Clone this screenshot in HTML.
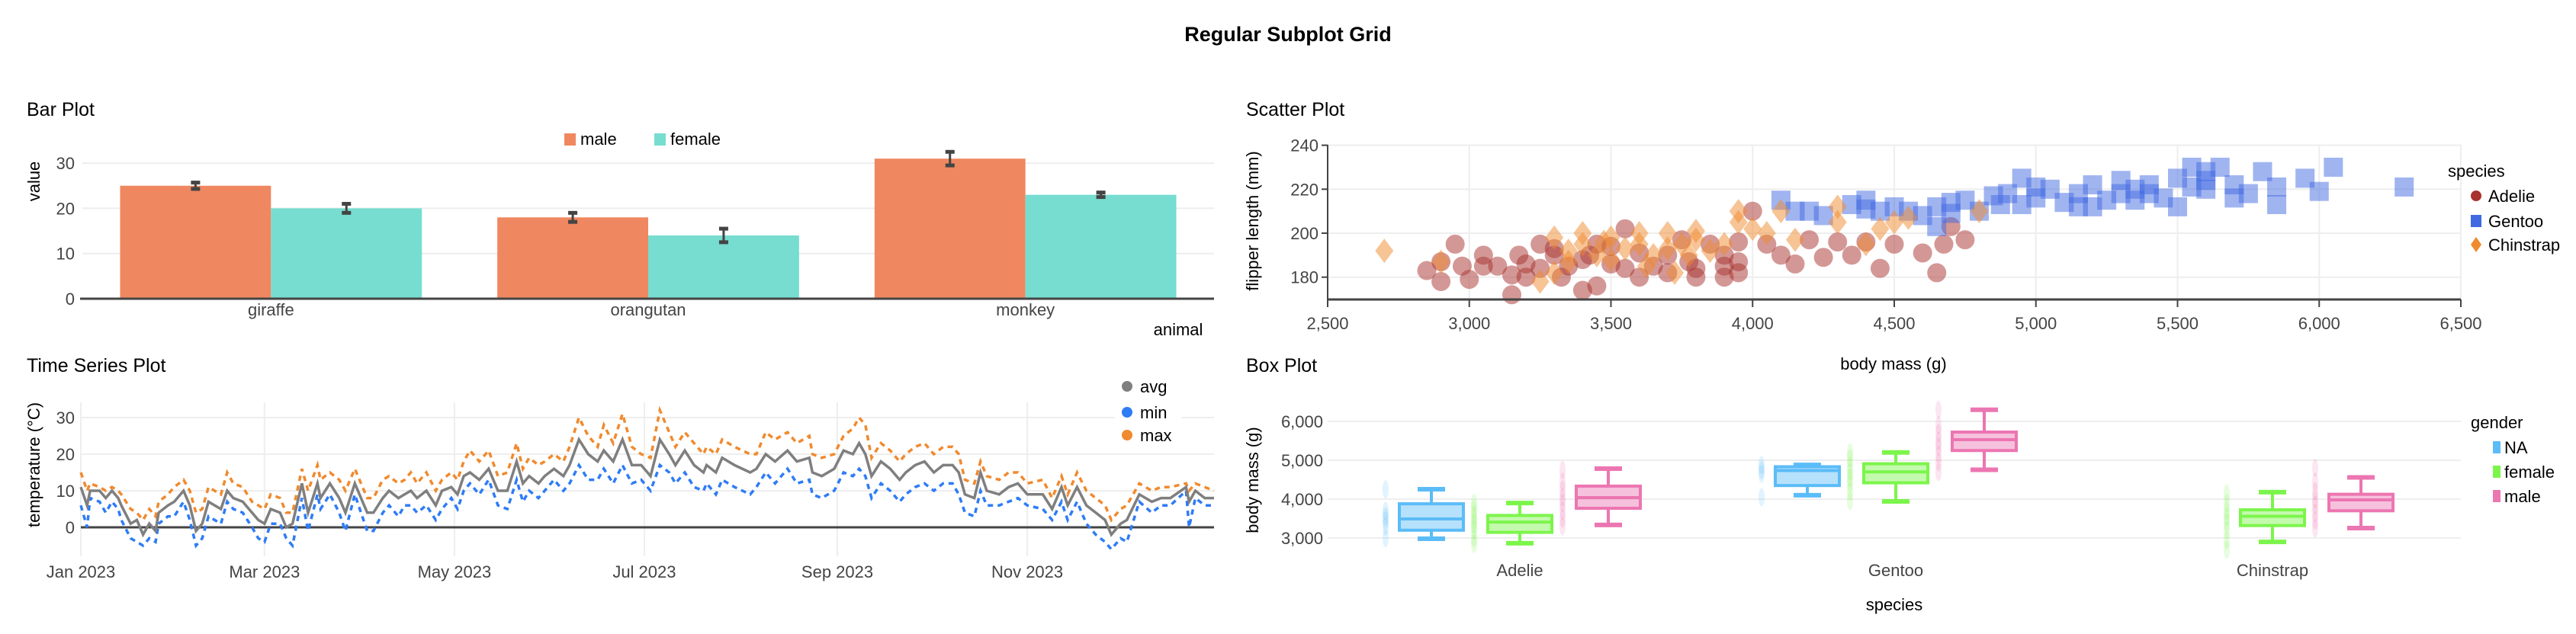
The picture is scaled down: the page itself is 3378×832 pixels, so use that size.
<!DOCTYPE html>
<html><head><meta charset="utf-8">
<style>
html,body{margin:0;padding:0;background:#fff;}
svg{display:block;font-family:"Liberation Sans",Arial,sans-serif;}
</style></head>
<body>
<svg id="chart" width="3378" height="832" viewBox="0 0 3378 832" xmlns="http://www.w3.org/2000/svg">
<text x="1689" y="54" text-anchor="middle" font-size="27" font-weight="bold" fill="#000">Regular Subplot Grid</text>
<text x="35" y="152" font-size="25" fill="#000">Bar Plot</text>
<text x="35" y="488" font-size="25" fill="#000">Time Series Plot</text>
<text x="1634" y="152" font-size="25" fill="#000">Scatter Plot</text>
<text x="1634" y="488" font-size="25" fill="#000">Box Plot</text>
<g id="bar"></g><g id="ts"></g><g id="sc"></g><g id="bx"></g>
</svg>
<script>
// ---------- BAR DATA ----------
const barCategories = ["giraffe","orangutan","monkey"];
const barMale = [25, 18, 31];
const barFemale = [20, 14, 23];
const barMaleErr = [0.7, 1.0, 1.5];
const barFemaleErr = [1.0, 1.5, 0.5];
const barTicks = [0,10,20,30];

// ---------- TIME SERIES DATA ----------
const tsDays = [0,2,3,6,8,10,12,13,16,18,20,22,24,25,28,30,33,35,37,39,41,43,45,47,49,52,55,57,59,61,64,66,68,71,73,76,77,80,83,85,88,90,92,94,97,99,102,104,106,108,111,114,116,119,121,123,125,128,131,134,137,140,142,144,147,149,152,155,157,160,163,166,168,171,174,177,180,183,186,189,191,194,197,200,201,204,206,210,215,217,220,223,227,230,234,235,238,242,245,248,250,252,254,257,260,263,265,268,271,274,277,280,282,284,287,289,291,295,298,301,304,309,312,315,317,320,323,326,329,331,334,336,340,344,347,350,355,356,358,361,364];
const tsAvg = [11,6,10,10,8,10,8,6,1,2,-2,1,-1,4,6,7,10,6,-1,1,7,6,5,10,8,7,4,2,1,5,4,0,1,12,4,12,8,12,8,4,12,8,4,4,8,10,8,9,10,8,10,6,10,11,9,14,15,13,16,10,10,18,12,14,12,14,16,14,17,24,20,18,21,18,24,17,17,14,24,20,17,21,17,15,17,15,19,17,15,16,20,18,21,18,19,15,14,16,21,20,23,20,14,18,16,13,15,17,18,15,17,17,15,9,8,15,10,9,11,12,9,9,5,11,6,11,6,4,2,-2,1,2,9,7,8,8,11,7,10,8,8];
const tsMin = [6,0,8,7,4,7,5,2,-3,-4,-5,-3,-4,1,3,3,7,2,-5,-3,3,2,1,7,5,4,0,-3,-4,1,1,-3,-5,8,-1,9,5,9,4,-1,9,4,-1,-1,4,6,3,6,6,4,6,2,5,8,5,10,12,9,13,6,5,13,7,10,8,10,13,10,12,17,13,13,16,12,17,12,13,10,17,15,12,15,11,10,12,9,13,11,9,11,15,12,16,12,13,9,8,10,15,14,16,14,8,12,10,7,9,11,12,10,12,12,9,4,3,10,6,6,7,8,6,5,2,7,2,7,1,-2,-4,-6,-3,-4,7,4,6,6,10,0,8,6,6];
const tsMax = [15,10,12,11,10,11,10,9,5,4,2,5,3,7,9,11,13,10,4,5,11,10,9,15,12,11,7,6,5,9,8,4,4,16,10,17,13,15,13,10,16,12,8,8,13,14,12,13,15,12,15,10,13,15,13,18,21,18,21,14,15,23,16,19,17,18,20,18,22,30,25,22,28,23,31,22,20,19,32,26,22,26,23,20,22,20,24,22,20,20,26,24,26,23,25,20,19,20,25,27,30,28,19,23,21,18,20,22,23,20,22,22,20,13,12,18,14,13,15,15,12,13,8,14,9,15,10,8,6,2,5,6,12,10,11,11,12,10,12,11,10];
const tsTicks = [0,10,20,30];
const tsMonthLabels = ["Jan 2023","Mar 2023","May 2023","Jul 2023","Sep 2023","Nov 2023"];
const tsMonthDays = [0,59,120,181,243,304];

// ---------- SCATTER DATA ----------
const adelieMass = [2850,2900,2900,2950,2975,3000,3050,3050,3100,3150,3150,3175,3200,3200,3250,3250,3300,3300,3325,3350,3400,3400,3425,3450,3450,3500,3500,3550,3550,3600,3600,3650,3700,3700,3750,3775,3800,3800,3850,3900,3900,3900,3950,3950,3950,4000,4050,4100,4150,4200,4250,4300,4350,4400,4450,4500,4600,4650,4675,4700,4750];
const adelieFlipper = [183,178,187,195,185,179,190,185,185,172,181,190,186,180,195,184,190,193,180,185,188,174,190,176,195,194,186,202,184,191,180,185,190,182,197,187,184,180,195,185,180,190,187,182,196,210,195,190,186,197,189,196,190,196,184,195,191,182,195,203,197];
const gentooMass = [4150,4100,4200,4250,4350,4400,4400,4450,4500,4550,4600,4650,4650,4700,4700,4750,4800,4850,4875,4900,4950,5000,5000,5050,5100,5150,5200,5200,5250,5300,5350,5350,5400,5400,5450,5500,5500,5550,5550,5600,5600,5650,5700,5700,5750,5800,5850,5850,5950,6000,6050,6300,4950,5150,5300,5600];
const gentooFlipper = [210,215,210,208,213,215,211,210,212,210,208,212,203,214,209,215,210,217,213,218,213,221,216,220,214,218,222,212,215,224,220,215,222,218,216,225,212,221,230,228,220,230,222,216,218,228,221,213,225,219,230,221,225,212,218,224];
const chinMass = [2700,2900,3250,3300,3350,3350,3400,3400,3450,3475,3500,3500,3550,3600,3625,3650,3700,3700,3725,3750,3775,3800,3800,3850,3900,3950,3950,4000,4050,4100,4150,4300,4300,4400,4450,4500,4550,4800,3300,3600];
const chinFlipper = [192,187,178,198,187,192,200,195,190,196,188,198,193,195,185,190,200,193,182,195,190,197,201,192,195,210,205,202,200,210,197,212,205,195,202,205,207,210,182,200];
const scXTicks = [2500,3000,3500,4000,4500,5000,5500,6000,6500];
const scYTicks = [180,200,220,240];

// ---------- BOX DATA ----------
const boxSpecies = ["Adelie","Gentoo","Chinstrap"];
const boxGenders = ["NA","female","male"];
const boxNA = [[2980,3200,3490,3880,4255],[4100,4350,4735,4833,4880],null];
const boxFemale = [[2865,3145,3410,3580,3900],[3940,4420,4700,4910,5200],[2900,3320,3560,3725,4180]];
const boxMale = [[3335,3765,4040,4335,4785],[4755,5250,5530,5725,6300],[3255,3700,3980,4125,4560]];
const boxNAPts = [[3000,3300,3450,3550,3700,4250],[4050,4650,4750,4875],[]];
const boxFemalePts = [[2850,3000,3200,3350,3450,3600,3750,3900],[3950,4200,4400,4550,4700,4850,5050,5200],[2700,2950,3200,3400,3550,3700,3900,4150]];
const boxMalePts = [[3300,3500,3700,3900,4050,4250,4450,4750],[4700,4950,5150,5350,5500,5700,5900,6300],[3250,3450,3650,3850,4000,4200,4450,4800]];
const boxTicks = [3000,4000,5000,6000];

const NS="http://www.w3.org/2000/svg";
function mk(parent, tag, attrs, text){
  const e=document.createElementNS(NS,tag);
  for(const k in attrs) e.setAttribute(k,attrs[k]);
  if(text!==undefined) e.textContent=text;
  parent.appendChild(e); return e;
}
const TICK="#444";

// ================= BAR PLOT =================
(function(){
  const g=document.getElementById('bar');
  const x0=108,x1=1592,y0=392,pxPerUnit=5.93;
  const y=v=>y0-v*pxPerUnit;
  const band=(x1-x0)/barCategories.length;
  barTicks.forEach(t=>{
    if(t>0){const l=mk(g,'line',{x1:x0,x2:x1,y1:y(t),y2:y(t),stroke:'#eee','stroke-width':2});
    
    }
    const tx=mk(g,'text',{x:98,y:y(t)+8,'text-anchor':'end','font-size':22,fill:TICK},t);
    
    
  });
  const series=[[barMale,barMaleErr,'#EF8860','male'],[barFemale,barFemaleErr,'#76DDD0','female']];
  const bw=band*0.4;
  barCategories.forEach((c,i)=>{
    const cx=x0+band*(i+0.5);
    series.forEach((s,j)=>{
      const v=s[0][i], e=s[1][i];
      const bx=cx-bw+j*bw;
      const r=mk(g,'rect',{x:bx,y:y(v),width:bw,height:y0-y(v),fill:s[2]});
      
      
      const ex=bx+bw/2;
      const eg=mk(g,'g',{stroke:'#444','stroke-width':3});
      
      
      mk(eg,'line',{x1:ex,x2:ex,y1:y(v+e),y2:y(v-e)});
      mk(eg,'line',{x1:ex-6,x2:ex+6,y1:y(v+e),y2:y(v+e),'stroke-width':5});
      mk(eg,'line',{x1:ex-6,x2:ex+6,y1:y(v-e),y2:y(v-e),'stroke-width':5});
    });
    const t=mk(g,'text',{x:cx,y:414,'text-anchor':'middle','font-size':22,fill:TICK},c);
    
    
  });
  const ax=mk(g,'line',{x1:x0-3,x2:x1,y1:y0,y2:y0,stroke:'#444','stroke-width':3});
  
  
  const xt=mk(g,'text',{x:1545,y:440,'text-anchor':'middle','font-size':22,fill:'#000'},'animal');
  
  
  const yt=mk(g,'text',{x:0,y:0,'text-anchor':'middle','font-size':22,fill:'#000',transform:'translate(52,238) rotate(-90)'},'value');
  
  
  [['male','#EF8860',740],['female','#76DDD0',858]].forEach(l=>{
    const lg=mk(g,'g',{});
    
    
    mk(lg,'rect',{x:l[2],y:175,width:15,height:16,fill:l[1]});
    mk(lg,'text',{x:l[2]+21,y:190,'font-size':22,fill:'#000'},l[0]);
  });
})();

// ================= TIME SERIES =================
(function(){
  const g=document.getElementById('ts');
  const x0=106,x1=1592,y0=692,ppu=4.8;
  const x=d=>x0+d*(x1-x0)/364;
  const y=v=>y0-v*ppu;
  tsMonthDays.forEach((d,i)=>{
    const l=mk(g,'line',{x1:x(d),x2:x(d),y1:528,y2:730,stroke:'#eee','stroke-width':2});
    
    
    const t=mk(g,'text',{x:x(d),y:758,'text-anchor':'middle','font-size':22,fill:TICK},tsMonthLabels[i]);
    
    
  });
  tsTicks.forEach(t=>{
    if(t>0){const l=mk(g,'line',{x1:x0,x2:x1,y1:y(t),y2:y(t),stroke:'#eee','stroke-width':2});
    
    }
    const tx=mk(g,'text',{x:98,y:y(t)+8,'text-anchor':'end','font-size':22,fill:TICK},t);
    
    
  });
  const zl=mk(g,'line',{x1:x0,x2:x1,y1:y0,y2:y0,stroke:'#444','stroke-width':3});
  
  
  const path=arr=>arr.map((v,i)=>(i?'L':'M')+x(tsDays[i]).toFixed(1)+','+y(v).toFixed(1)).join('');
  const mn=mk(g,'path',{d:path(tsMin),fill:'none',stroke:'#2E7CF6','stroke-width':3.5,'stroke-dasharray':'7,6'});
  
  
  const mx=mk(g,'path',{d:path(tsMax),fill:'none',stroke:'#F08A2E','stroke-width':3.5,'stroke-dasharray':'7,6'});
  
  
  const av=mk(g,'path',{d:path(tsAvg),fill:'none',stroke:'#7f7f7f','stroke-width':3.5});
  
  
  const bg=mk(g,'rect',{x:1462,y:490,width:88,height:95,fill:'#fff'});
  
  
  [['avg','#7f7f7f',507],['min','#2E7CF6',541],['max','#F08A2E',571]].forEach(l=>{
    const lg=mk(g,'g',{});
    
    
    mk(lg,'circle',{cx:1478,cy:l[2],r:7,fill:l[1]});
    mk(lg,'text',{x:1495,y:l[2]+8,'font-size':22,fill:'#000'},l[0]);
  });
  const yt=mk(g,'text',{x:0,y:0,'text-anchor':'middle','font-size':22,fill:'#000',transform:'translate(52,610) rotate(-90)'},'temperature (°C)');
  
  
})();

// ================= SCATTER =================
(function(){
  const g=document.getElementById('sc');
  const x0=1741,x1=3227,yb=393;
  const x=m=>x0+(m-2500)*(x1-x0)/4000;
  const y=f=>306-(f-200)*2.885;
  scXTicks.forEach(t=>{
    if(t>2500){const l=mk(g,'line',{x1:x(t),x2:x(t),y1:190,y2:yb,stroke:'#eee','stroke-width':2});
    
    }
    mk(g,'line',{x1:x(t),x2:x(t),y1:yb,y2:yb+10,stroke:'#444','stroke-width':2});
    const tx=mk(g,'text',{x:x(t),y:432,'text-anchor':'middle','font-size':22,fill:TICK},t.toLocaleString('en-US'));
    
    
  });
  scYTicks.forEach(t=>{
    const l=mk(g,'line',{x1:x0,x2:x1,y1:y(t),y2:y(t),stroke:'#eee','stroke-width':2});
    
    
    mk(g,'line',{x1:x0-8,x2:x0,y1:y(t),y2:y(t),stroke:'#444','stroke-width':2});
    const tx=mk(g,'text',{x:x0-12,y:y(t)+8,'text-anchor':'end','font-size':22,fill:TICK},t);
    
    
  });
  adelieMass.forEach((m,i)=>{
    const c=mk(g,'circle',{cx:x(m),cy:y(adelieFlipper[i]),r:12.5,fill:'#A8322D','fill-opacity':0.5});
    
    
  });
  gentooMass.forEach((m,i)=>{
    const cx=x(gentooMass[i]),cy=y(gentooFlipper[i]);
    const r=mk(g,'rect',{x:cx-12.5,y:cy-12.5,width:25,height:25,fill:'#4169E1','fill-opacity':0.5});
    
    
  });
  chinMass.forEach((m,i)=>{
    const cx=x(m),cy=y(chinFlipper[i]);
    const p=mk(g,'path',{d:`M${cx},${cy-16}L${cx+12},${cy}L${cx},${cy+16}L${cx-12},${cy}Z`,fill:'#F08A2E','fill-opacity':0.5});
    
    
  });
  const ya=mk(g,'line',{x1:x0,x2:x0,y1:190,y2:yb,stroke:'#444','stroke-width':2});
  
  
  const xa=mk(g,'line',{x1:x0,x2:x1,y1:yb,y2:yb,stroke:'#444','stroke-width':3});
  
  
  const xt=mk(g,'text',{x:2483,y:485,'text-anchor':'middle','font-size':22,fill:'#000'},'body mass (g)');
  
  
  const yt=mk(g,'text',{x:0,y:0,'text-anchor':'middle','font-size':22,fill:'#000',transform:'translate(1650,290) rotate(-90)'},'flipper length (mm)');
  
  
  const lt=mk(g,'text',{x:3210,y:232,'font-size':22,fill:'#000'},'species');
  
  
  const lg1=mk(g,'g',{});
  
  
  mk(lg1,'circle',{cx:3247,cy:257,r:7,fill:'#A8322D'});
  mk(lg1,'text',{x:3263,y:265,'font-size':22,fill:'#000'},'Adelie');
  const lg2=mk(g,'g',{});
  
  
  mk(lg2,'rect',{x:3240,y:282,width:14,height:16,fill:'#4169E1'});
  mk(lg2,'text',{x:3263,y:298,'font-size':22,fill:'#000'},'Gentoo');
  const lg3=mk(g,'g',{});
  
  
  mk(lg3,'path',{d:'M3247,311L3254,321L3247,331L3240,321Z',fill:'#F08A2E'});
  mk(lg3,'text',{x:3263,y:329,'font-size':22,fill:'#000'},'Chinstrap');
})();

// ================= BOX PLOT =================
(function(){
  const g=document.getElementById('bx');
  const x0=1741,x1=3227;
  const y=v=>706-(v-3000)*0.051;
  const centers=[1993,2486,2980];
  const colors=['#5BBCF8','#7CF54B','#EC76B1'];
  const offs=[-116,0,116];
  const stats=[boxNA,boxFemale,boxMale];
  const pts=[boxNAPts,boxFemalePts,boxMalePts];
  boxTicks.forEach(t=>{
    const l=mk(g,'line',{x1:x0,x2:x1,y1:y(t),y2:y(t),stroke:'#eee','stroke-width':2});
    
    
    const tx=mk(g,'text',{x:x0-6,y:y(t)+8,'text-anchor':'end','font-size':22,fill:TICK},t.toLocaleString('en-US'));
    
    
  });
  boxSpecies.forEach((sp,i)=>{
    const t=mk(g,'text',{x:centers[i],y:756,'text-anchor':'middle','font-size':22,fill:TICK},sp);
    
    
    stats.forEach((st,j)=>{
      const s=st[i]; if(!s) return;
      const cx=centers[i]+offs[j], c=colors[j], w=84;
      pts[j][i].forEach(v=>{
        const e=mk(g,'ellipse',{cx:cx-60,cy:y(v),rx:4,ry:12,fill:c,'fill-opacity':0.18});
        
        
      });
      const bg=mk(g,'g',{stroke:c,'stroke-width':4});
      
      
      mk(bg,'line',{x1:cx,x2:cx,y1:y(s[4]),y2:y(s[3])});
      mk(bg,'line',{x1:cx,x2:cx,y1:y(s[1]),y2:y(s[0])});
      mk(bg,'line',{x1:cx-18,x2:cx+18,y1:y(s[4]),y2:y(s[4]),'stroke-width':6});
      mk(bg,'line',{x1:cx-18,x2:cx+18,y1:y(s[0]),y2:y(s[0]),'stroke-width':6});
      mk(bg,'rect',{x:cx-w/2,y:y(s[3]),width:w,height:y(s[1])-y(s[3]),fill:c,'fill-opacity':0.45});
      mk(bg,'line',{x1:cx-w/2,x2:cx+w/2,y1:y(s[2]),y2:y(s[2])});
    });
  });
  const xt=mk(g,'text',{x:2484,y:801,'text-anchor':'middle','font-size':22,fill:'#000'},'species');
  
  
  const yt=mk(g,'text',{x:0,y:0,'text-anchor':'middle','font-size':22,fill:'#000',transform:'translate(1650,630) rotate(-90)'},'body mass (g)');
  
  
  const lt=mk(g,'text',{x:3240,y:562,'font-size':22,fill:'#000'},'gender');
  
  
  boxGenders.forEach((gd,j)=>{
    const lg=mk(g,'g',{});
    
    
    const yy=587+j*32;
    mk(lg,'rect',{x:3269,y:yy-8,width:10,height:16,fill:colors[j]});
    mk(lg,'text',{x:3284,y:yy+8,'font-size':22,fill:'#000'},gd);
  });
})();
</script>
</body></html>
